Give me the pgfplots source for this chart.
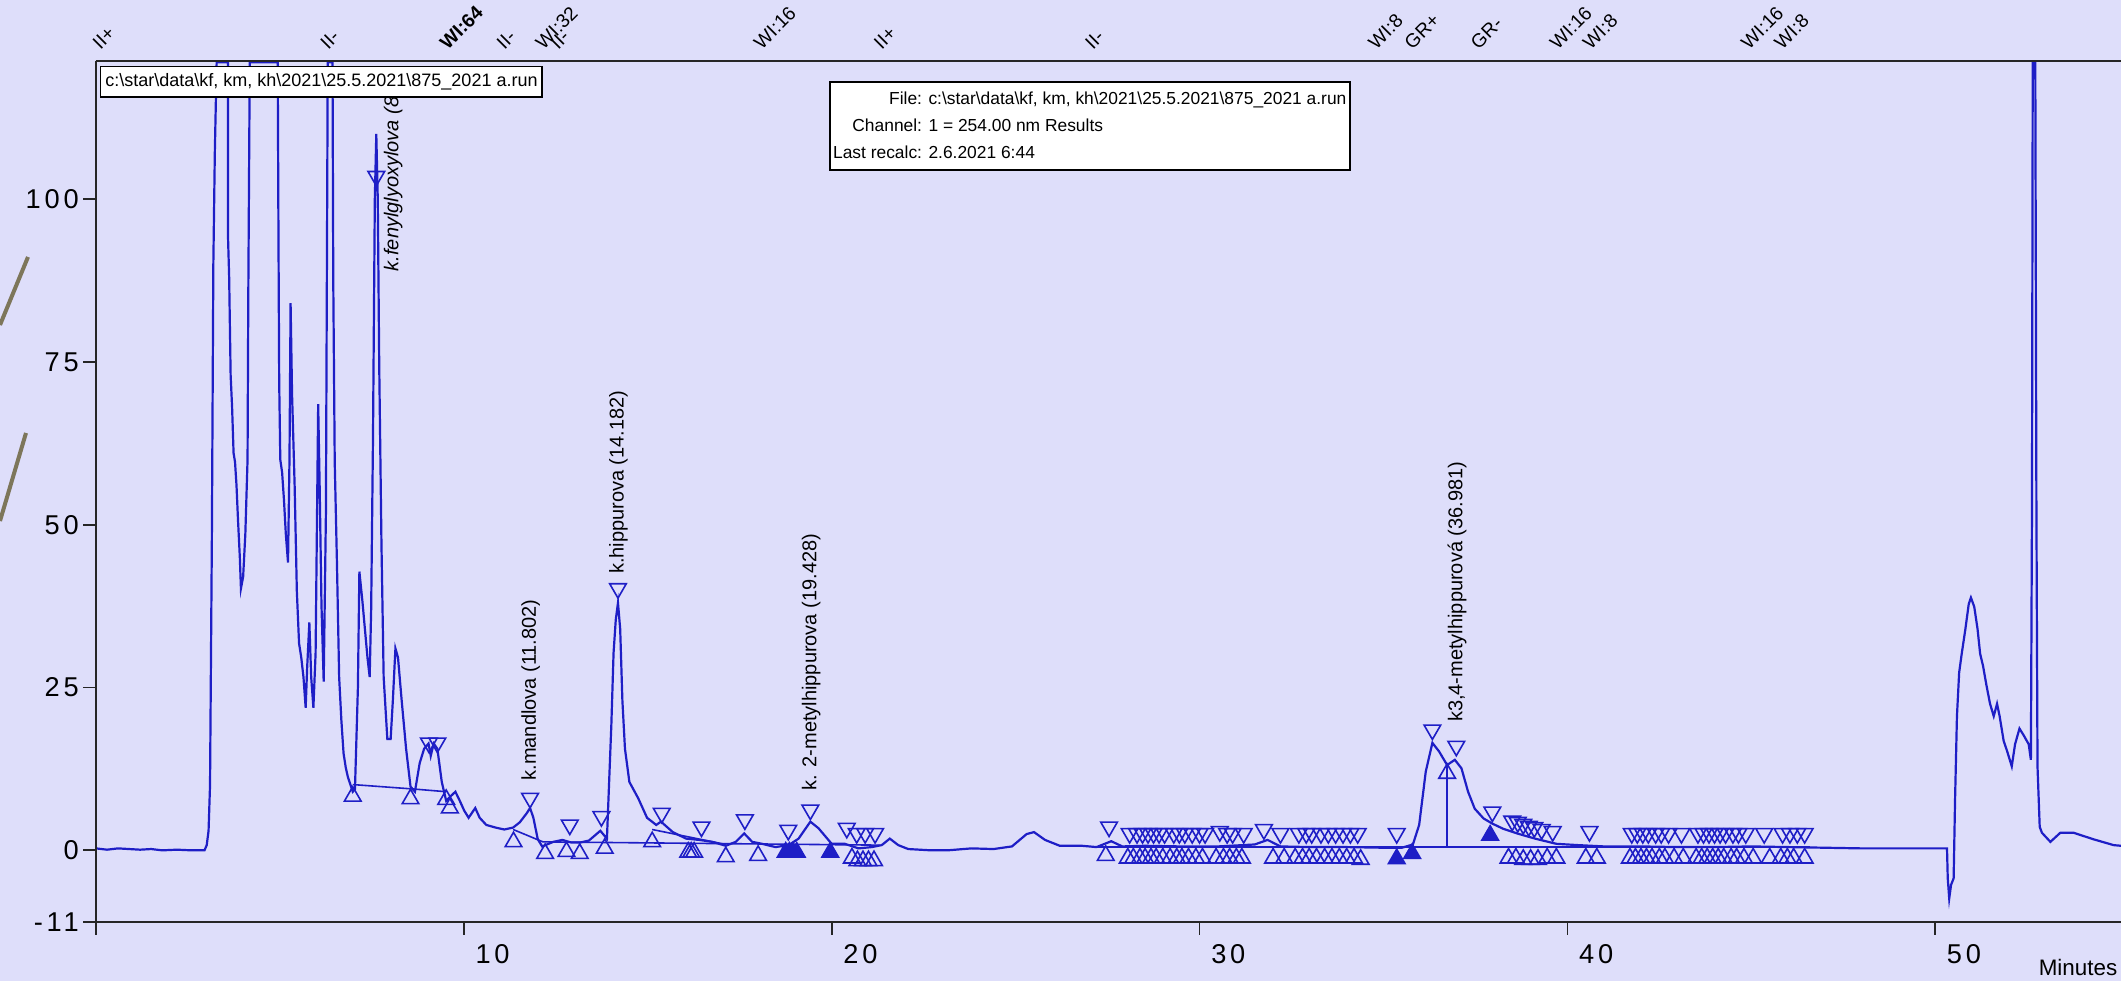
\documentclass[border=0pt]{standalone}
\usepackage{pgfplots}
\pgfplotsset{compat=1.18}
\usepackage{fontspec}
\setmainfont{Liberation Sans}
\definecolor{bg}{RGB}{222,222,250}
\definecolor{trace}{RGB}{30,30,198}
\definecolor{deco}{RGB}{125,118,90}
\newcommand{\bs}{\textbackslash}
\newcommand{\tickfont}{\fontsize{6.8}{6.8}\selectfont\addfontfeatures{LetterSpace=14}}
\begin{document}
\begin{tikzpicture}[x=1pt,y=1pt]
\fill[bg] (-24,-14.75) rectangle (506.25,230.5);
\draw[deco, line width=1pt] (-24,149.25) -- (-17,166.25);
\draw[deco, line width=1pt] (-24,100.25) -- (-17.5,122.25);
\begin{axis}[
  at={(0,0)}, anchor=south west,
  scale only axis, width=506.25pt, height=215.25pt,
  xmin=0, xmax=55.05, ymin=-11, ymax=121.2,
  axis line style={draw=none},
  xtick={0,10,20,30,40,50}, xticklabels={,10,20,30,40,50},
  ytick={-11,0,25,50,75,100}, yticklabels={-11,0,25,50,75,100},
  tick align=outside, major tick length=3.2pt,
  xtick pos=left, ytick pos=left,
  tick style={black!85, line width=0.45pt},
  xticklabel style={anchor=north west, xshift=-0.6pt, yshift=1pt, font=\tickfont},
  yticklabel style={xshift=2.4pt, font=\tickfont},
  clip=true,
]
% integration baselines
\addplot[trace, line width=0.4pt] coordinates {(6.98,10.1) (8.67,9.4) (9.52,9.0)};
\addplot[trace, line width=0.4pt] coordinates {(11.34,3.2) (12.15,1.3) (21.3,0.8)};
\addplot[trace, line width=0.4pt] coordinates {(15.12,3.2) (17.12,0.9)};
\addplot[trace, line width=0.4pt] coordinates {(27.2,0.5) (46.6,0.5)};
\addplot[trace, line width=0.4pt] coordinates {(36.73,0.5) (36.73,13.1)};
% chromatogram trace
\addplot[trace, line width=0.55pt] coordinates {
(0.00,0.3) (0.3,0.1) (0.6,0.3) (0.9,0.2) (1.2,0.1) (1.5,0.2) (1.8,0.0) (2.2,0.1) (2.6,0.0) (2.95,0.0)
(3.01,0.8) (3.06,3) (3.10,10) (3.15,48) (3.19,90) (3.23,107) (3.28,121) (3.59,121) (3.59,94) (3.62,88)
(3.66,73) (3.70,68) (3.74,61) (3.78,59.6) (3.82,56) (3.86,50.8) (3.91,45) (3.94,40.2) (4.00,42) (4.06,48.6)
(4.12,60) (4.14,85) (4.18,121) (4.94,121) (4.96,94.9) (4.98,72) (5.01,60) (5.06,58) (5.11,53.8) (5.16,48.6)
(5.22,44.2) (5.26,60) (5.29,84) (5.33,70) (5.40,56) (5.46,39.8) (5.52,31.8) (5.58,29.6) (5.64,26.6) (5.70,21.9)
(5.74,28) (5.80,35) (5.85,26.6) (5.91,21.9) (5.97,30.3) (6.04,68.5) (6.08,56) (6.13,37.6) (6.19,25.9) (6.25,51.6)
(6.30,121) (6.43,121) (6.45,87.5) (6.49,59.6) (6.55,44.2) (6.61,26.6) (6.67,20) (6.73,14.9) (6.79,12.7) (6.85,11.2)
(6.98,9.0) (7.04,9.4) (7.12,25) (7.16,42.8) (7.24,38.4) (7.31,34) (7.38,29.6) (7.44,26.6) (7.48,36.9) (7.53,63.3)
(7.58,100) (7.62,110) (7.66,100) (7.70,74.3) (7.76,47.2) (7.82,26.6) (7.92,17.1) (8.01,17.1) (8.07,23) (8.14,31)
(8.21,29.6) (8.31,23) (8.43,15.6) (8.55,9.8) (8.67,9.0) (8.80,13.4) (8.92,15.6) (9.04,16.4) (9.10,14.5) (9.18,16.4)
(9.28,15.6) (9.40,10.5) (9.52,7.6) (9.64,8.3) (9.77,9.0) (9.89,7.6) (10.01,6.1) (10.13,5.0) (10.31,6.5) (10.43,5.0)
(10.61,3.9) (10.86,3.5) (11.10,3.2) (11.34,3.5) (11.52,4.3) (11.71,5.7) (11.80,6.5) (11.89,5.0) (12.01,1.7) (12.13,0.6)
(12.43,1.3) (12.68,1.6) (12.92,1.2) (13.16,1.2) (13.40,1.5) (13.71,3.0) (13.89,1.8) (14.01,19.3) (14.07,30.3) (14.13,35.4)
(14.19,38) (14.25,34) (14.31,23) (14.38,15.6) (14.50,10.5) (14.74,8.0) (14.98,5.0) (15.23,3.9) (15.36,4.4) (15.68,2.8)
(16.04,1.8) (16.4,1.6) (16.76,1.3) (17.12,0.7) (17.39,1.3) (17.62,2.6) (17.84,1.3) (18.11,1.0) (18.47,0.5) (18.83,0.8)
(19.1,1.8) (19.42,4.4) (19.64,3.4) (20.0,1.0) (20.36,1.0) (20.73,0.3) (21.09,0.5) (21.36,0.8) (21.58,1.8) (21.81,0.8)
(22.08,0.2) (22.7,0.0) (23.15,0.0) (23.8,0.3) (24.4,0.2) (24.9,0.6) (25.3,2.5) (25.5,2.8) (25.8,1.6) (26.2,0.7)
(26.8,0.7) (27.2,0.5) (27.6,1.4) (27.9,0.6) (28.5,0.7) (29.5,0.6) (30.5,0.6) (31.5,0.9) (31.85,1.6) (32.2,0.6)
(33.0,0.5) (34.0,0.5) (35.0,0.4) (35.5,0.4) (35.8,0.9) (35.97,3.9) (36.15,12.1) (36.33,16.5) (36.51,15.2) (36.73,13.1)
(36.94,13.9) (37.12,12.6) (37.3,9) (37.48,6.4) (37.72,4.9) (37.96,4.1) (38.26,3.3) (38.63,2.6) (39.12,1.8) (39.7,1.0)
(40.3,0.8) (41.0,0.6) (42.0,0.6) (43.0,0.5) (44.0,0.5) (45.0,0.6) (46.0,0.5) (47.0,0.4) (48.0,0.3) (49.0,0.3)
(49.7,0.3) (50.32,0.3) (50.34,-4.3) (50.38,-7.4) (50.43,-5.3) (50.50,-4.3) (50.54,8.1) (50.59,20.6) (50.65,27.3) (50.72,30.2)
(50.82,34) (50.91,37.8) (50.97,38.8) (51.06,37.4) (51.15,34) (51.22,30.2) (51.30,28.3) (51.39,25.4) (51.49,22.5) (51.59,20.6)
(51.68,22.5) (51.75,20.6) (51.86,16.8) (51.95,15.3) (52.08,12.9) (52.17,16.3) (52.29,18.7) (52.40,17.7) (52.54,16.3) (52.60,13.9)
(52.63,53) (52.65,121) (52.72,121) (52.75,53) (52.78,12.9) (52.84,3.6) (52.90,2.7) (53.13,1.3) (53.40,2.7) (53.76,2.7)
(54.30,1.7) (54.85,0.8) (55.05,0.7)
};
% peak apex markers
\addplot[trace, only marks, mark=triangle, mark size=2.4pt, mark options={rotate=180, line width=0.4pt}] coordinates {
(7.62,103.5) (9.05,16.5) (9.28,16.5) (11.80,8.0) (12.88,3.9) (13.74,5.2) (14.19,40.2) (15.38,5.7) (16.46,3.6) (17.64,4.7)
(18.82,3.1) (19.42,6.2) (20.41,3.4) (20.68,2.6) (20.91,2.6) (21.18,2.6)
(27.54,3.6) (28.1,2.6) (28.3,2.6) (28.45,2.6) (28.6,2.6) (28.75,2.6) (28.9,2.6) (29.05,2.6) (29.3,2.6) (29.45,2.6)
(29.6,2.6) (29.8,2.6) (30.0,2.6) (30.15,2.6) (30.55,2.9) (30.75,2.6) (30.9,2.6) (31.2,2.6) (31.75,3.2) (32.2,2.6)
(32.7,2.6) (32.9,2.6) (33.05,2.6) (33.3,2.6) (33.5,2.6) (33.7,2.6) (33.9,2.6) (34.1,2.6) (34.3,2.6) (35.36,2.6)
(36.33,18.5) (36.98,16.0) (37.96,5.9) (38.5,4.5) (38.65,4.3) (38.8,4.0) (38.95,3.7) (39.1,3.5)
(39.3,3.2) (39.6,2.9) (40.6,2.9) (41.75,2.6) (41.9,2.6) (42.05,2.6) (42.2,2.6) (42.4,2.6) (42.55,2.6) (42.75,2.6)
(43.1,2.6) (43.55,2.6) (43.7,2.6) (43.85,2.6) (44.0,2.6) (44.15,2.6) (44.3,2.6) (44.5,2.6) (44.65,2.6) (44.85,2.6)
(45.35,2.6) (45.85,2.6) (46.05,2.6) (46.25,2.6) (46.45,2.6)
};
% peak start / end markers
\addplot[trace, only marks, mark=triangle, mark size=2.4pt, mark options={line width=0.4pt}] coordinates {
(6.98,8.3) (8.55,7.9) (9.52,7.8) (9.62,6.5) (11.35,1.3) (12.21,-0.5) (12.79,-0.2) (13.15,-0.5) (13.83,0.3) (15.12,1.3)
(16.1,-0.3) (16.18,-0.3) (16.26,-0.3) (17.12,-1.0) (18.0,-0.8) (20.55,-1.2) (20.7,-1.6) (20.85,-1.6) (21.0,-1.6) (21.15,-1.6)
(27.45,-0.8) (28.05,-1.2) (28.2,-1.2) (28.38,-1.2) (28.52,-1.2) (28.68,-1.2) (28.82,-1.2) (29.0,-1.2) (29.2,-1.2) (29.38,-1.2)
(29.52,-1.2) (29.7,-1.2) (29.9,-1.2) (30.08,-1.2) (30.45,-1.2) (30.65,-1.2) (30.82,-1.2) (31.0,-1.2) (31.15,-1.2) (32.0,-1.2)
(32.3,-1.2) (32.6,-1.2) (32.8,-1.2) (32.98,-1.2) (33.18,-1.2) (33.4,-1.2) (33.6,-1.2) (33.8,-1.2) (34.0,-1.2) (34.2,-1.2)
(34.38,-1.4) (36.73,11.8) (38.4,-1.2) (38.6,-1.2) (38.8,-1.4) (39.0,-1.4) (39.2,-1.4) (39.45,-1.2) (39.7,-1.2)
(40.5,-1.2) (40.8,-1.2) (41.7,-1.2) (41.85,-1.2) (42.0,-1.2) (42.15,-1.2) (42.3,-1.2) (42.5,-1.2) (42.65,-1.2) (42.9,-1.2)
(43.15,-1.2) (43.5,-1.2) (43.65,-1.2) (43.8,-1.2) (43.95,-1.2) (44.1,-1.2) (44.25,-1.2) (44.45,-1.2) (44.6,-1.2) (44.8,-1.2)
(45.05,-1.2) (45.5,-1.2) (45.8,-1.2) (45.98,-1.2) (46.15,-1.2) (46.45,-1.2)
};
% filled markers
\addplot[trace, only marks, mark=triangle*, mark size=2.4pt, mark options={line width=0.4pt}] coordinates {
(18.75,-0.3) (18.85,-0.3) (18.95,-0.3) (19.05,-0.3) (19.96,-0.3) (35.36,-1.3) (35.78,-0.5) (37.9,2.3)
};
% peak labels
\node[rotate=90, anchor=west, inner sep=0.5pt, font=\fontsize{5}{5}\selectfont\itshape] at (axis cs:8.08,88.5) {k.fenylglyoxylova (8.};
\node[rotate=90, anchor=west, inner sep=0.5pt, font=\fontsize{5}{5}\selectfont] at (axis cs:11.82,10.3) {k.mandlova (11.802)};
\node[rotate=90, anchor=west, inner sep=0.5pt, font=\fontsize{5}{5}\selectfont] at (axis cs:14.20,42.0) {k.hippurova (14.182)};
\node[rotate=90, anchor=west, inner sep=0.5pt, font=\fontsize{5}{5}\selectfont] at (axis cs:19.44,8.8) {k. 2-metylhippurova (19.428)};
\node[rotate=90, anchor=west, inner sep=0.5pt, font=\fontsize{5}{5}\selectfont] at (axis cs:37.00,19.3) {k3,4-metylhippurová (36.981)};
% integration event marks on the top edge
\draw[black!85, line width=0.4pt] (axis cs:0.3,121.2) -- ++(0,2.2pt);
\draw[black!85, line width=0.4pt] (axis cs:6.49,121.2) -- ++(0,2.2pt);
\draw[black!85, line width=0.4pt] (axis cs:9.74,121.2) -- ++(0,2.2pt);
\draw[black!85, line width=0.4pt] (axis cs:11.28,121.2) -- ++(0,2.2pt);
\draw[black!85, line width=0.4pt] (axis cs:12.34,121.2) -- ++(0,2.2pt);
\draw[black!85, line width=0.4pt] (axis cs:12.74,121.2) -- ++(0,2.2pt);
\draw[black!85, line width=0.4pt] (axis cs:18.27,121.2) -- ++(0,2.2pt);
\draw[black!85, line width=0.4pt] (axis cs:21.53,121.2) -- ++(0,2.2pt);
\draw[black!85, line width=0.4pt] (axis cs:27.27,121.2) -- ++(0,2.2pt);
\draw[black!85, line width=0.4pt] (axis cs:34.97,121.2) -- ++(0,2.2pt);
\draw[black!85, line width=0.4pt] (axis cs:35.95,121.2) -- ++(0,2.2pt);
\draw[black!85, line width=0.4pt] (axis cs:37.75,121.2) -- ++(0,2.2pt);
\draw[black!85, line width=0.4pt] (axis cs:39.9,121.2) -- ++(0,2.2pt);
\draw[black!85, line width=0.4pt] (axis cs:40.8,121.2) -- ++(0,2.2pt);
\draw[black!85, line width=0.4pt] (axis cs:45.1,121.2) -- ++(0,2.2pt);
\draw[black!85, line width=0.4pt] (axis cs:46.0,121.2) -- ++(0,2.2pt);
\end{axis}
% axis lines (left, bottom, top)
\draw[black!85, line width=0.5pt] (0,0) -- (0,215.25);
\draw[black!85, line width=0.5pt] (0,0) -- (506.25,0);
\draw[black!85, line width=0.5pt] (0,215.25) -- (506.25,215.25);
% top event labels
\begin{scope}[every node/.style={rotate=45, anchor=south west, inner sep=0pt, font=\fontsize{4.8}{4.8}\selectfont}]
\node at ({0.3*9.2-1.6},217.6) {II+};
\node at ({6.49*9.2-1.6},217.6) {II-};
\node[font=\fontsize{4.8}{4.8}\selectfont\bfseries] at ({9.74*9.2-1.6},217.6) {WI:64};
\node at ({11.28*9.2-1.6},217.6) {II-};
\node at ({12.34*9.2-1.6},217.6) {WI:32};
\node at ({12.74*9.2-1.6},217.6) {II-};
\node at ({18.27*9.2-1.6},217.6) {WI:16};
\node at ({21.53*9.2-1.6},217.6) {II+};
\node at ({27.27*9.2-1.6},217.6) {II-};
\node at ({34.97*9.2-1.6},217.6) {WI:8};
\node at ({35.95*9.2-1.6},217.6) {GR+};
\node at ({37.75*9.2-1.6},217.6) {GR-};
\node at ({39.9*9.2-1.6},217.6) {WI:16};
\node at ({40.8*9.2-1.6},217.6) {WI:8};
\node at ({45.1*9.2-1.6},217.6) {WI:16};
\node at ({46.0*9.2-1.6},217.6) {WI:8};
\end{scope}
% annotation boxes
\node[draw=black, fill=white, line width=0.45pt, anchor=north west, inner xsep=1.2pt, inner ysep=1.7pt, font=\fontsize{4.5}{5}\selectfont]
  at (0.9,214.1) {c:\bs star\bs data\bs kf, km, kh\bs 2021\bs 25.5.2021\bs 875\_2021 a.run};
\node[draw=black, fill=white, line width=0.45pt, anchor=north west, minimum width=129pt, minimum height=22pt, inner sep=0.8pt, font=\fontsize{4.35}{6.7}\selectfont]
  at (183.25,210.25) {\begin{tabular}{@{}r@{ }l@{}}File: & c:\bs star\bs data\bs kf, km, kh\bs 2021\bs 25.5.2021\bs 875\_2021 a.run\\ Channel: & 1 = 254.00 nm Results\\ Last recalc: & 2.6.2021 6:44\end{tabular}};
\node[anchor=east, inner sep=0pt, font=\fontsize{5.6}{5.6}\selectfont] at (505.5,-11.3) {Minutes};
\pgfresetboundingbox
\path[use as bounding box] (-24,-14.75) rectangle (506.25,230.5);
\end{tikzpicture}
\end{document}
